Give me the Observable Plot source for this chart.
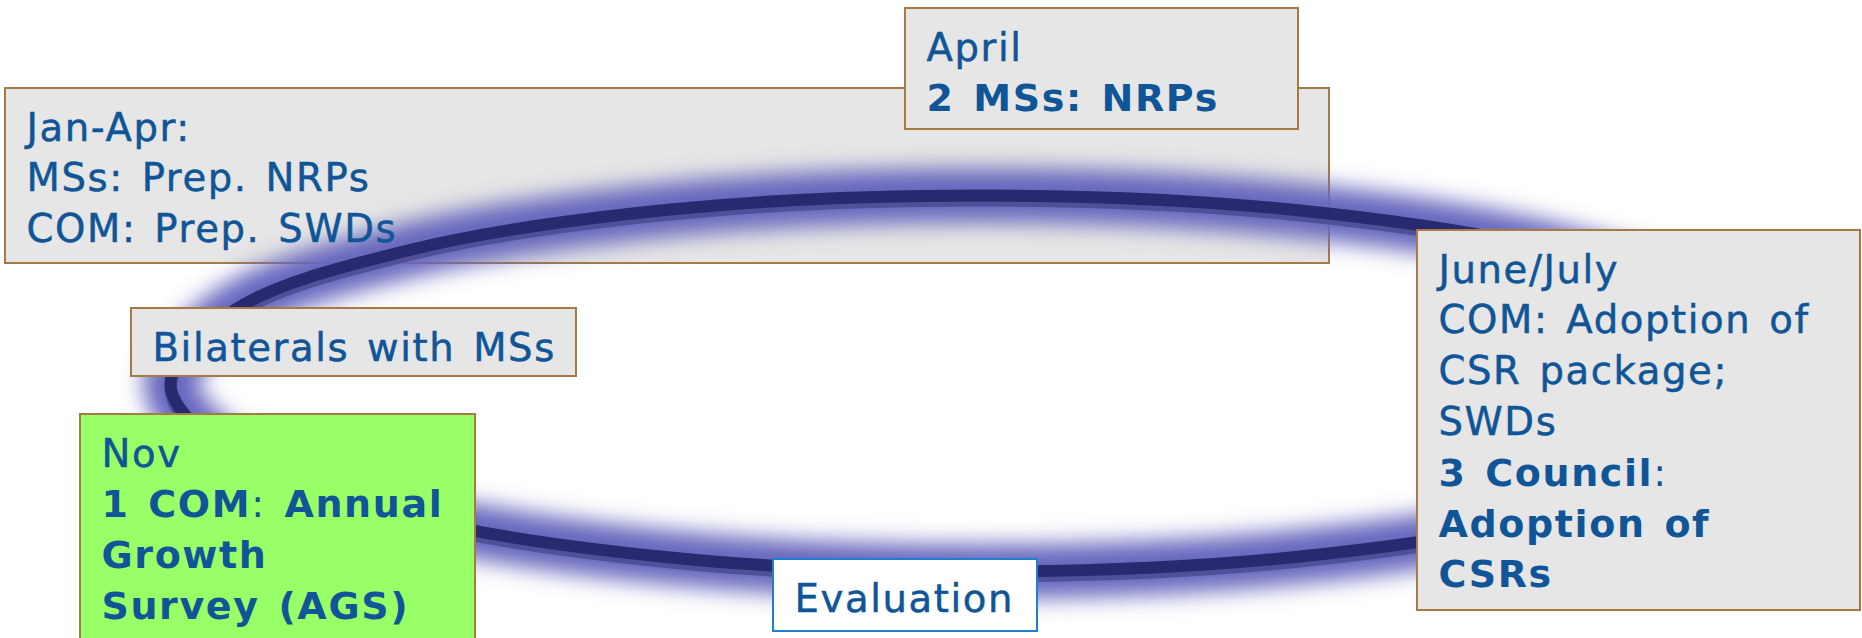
<!DOCTYPE html>
<html><head><meta charset="utf-8">
<script src="https://cdn.jsdelivr.net/npm/d3@7"></script>
<script src="https://cdn.jsdelivr.net/npm/@observablehq/plot@0.6"></script>
<style>
html,body{margin:0;padding:0;background:#fff;overflow:hidden}
#chart svg text{letter-spacing:1.6px;word-spacing:4px}
#chart svg g[aria-description="regular-lines"] text{stroke:#0f5597;stroke-width:0.5px;font-size:38.6px}
</style></head><body><div id="chart"></div>
<script>
// Ring (closed cycle) – points read along the drawn loop
const ringX = [1790,1728,1553,1290,980,670,407,232,170,232,407,670,980,1290,1553,1728];
const ringY = [383,311,250,209,195,209,250,311,383,455,516,557,571,557,516,455];

// Boxes of the cycle diagram
const boxIds    = ["Jan-Apr","April","June/July","Bilaterals","Nov","Evaluation"];
const boxLeft   = [5, 905, 1417, 131, 80, 773];
const boxRight  = [1329, 1298, 1860, 576, 475, 1037];
const boxTop    = [88, 8, 230, 308, 414, 559];
const boxBottom = [263, 129, 610, 376, 660, 631];

// Text lines inside the boxes
const lineBox  = [0,0,0, 1,1, 2,2,2,2,2,2,2, 3, 4,4,4,4, 5];
const lineText = [
  "Jan-Apr:","MSs: Prep. NRPs","COM: Prep. SWDs",
  "April","2 MSs: NRPs",
  "June/July","COM: Adoption of","CSR package;","SWDs","3 Council:","Adoption of","CSRs",
  "Bilaterals with MSs",
  "Nov","1 COM: Annual","Growth","Survey (AGS)",
  "Evaluation"
];
const lineBold = [0,0,0, 0,1, 0,0,0,0,1,1,1, 0, 0,1,1,1, 0];
const thinColonLines = [9, 14];

// layout / style
const fillOf = ["#e6e6e6","#e6e6e6","#e6e6e6","#e6e6e6","#99ff66","#ffffff"];
const strokeOf = ["#a57a45","#a57a45","#a57a45","#a57a45","#a57a45","#1e7fd0"];
const padX = 21, firstBase = 52, lineStep = 50.8;
const textBlue = "#0f5597";

const lineIdx = lineBox.map((b, i) => i - lineBox.indexOf(b));
const L = lineText.map((_, i) => i);
const ringIdx = ringX.map((_, i) => i);
const back = [0], front = [1,2,3,4,5];

const rectOpts = {
  x1: i => boxLeft[i], x2: i => boxRight[i],
  y1: i => boxTop[i], y2: i => boxBottom[i],
  fill: i => fillOf[i], stroke: i => strokeOf[i], strokeWidth: 2
};
const textOpts = (bold) => ({
  filter: i => !!lineBold[i] === bold,
  x: i => boxLeft[lineBox[i]] + padX,
  y: i => boxTop[lineBox[i]] + firstBase + lineIdx[i] * lineStep,
  text: i => lineText[i],
  textAnchor: "start", lineAnchor: "bottom",
  fontSize: 38, fontFamily: "DejaVu Sans", fontWeight: bold ? "bold" : "normal",
  fill: textBlue, ariaDescription: bold ? "bold-lines" : "regular-lines"
});

const ringOpts = {x: i => ringX[i], y: i => ringY[i], curve: "catmull-rom-closed"};

const svg = Plot.plot({
  width: 1862, height: 638, margin: 0,
  x: {domain: [0, 1862], range: [0, 1862], axis: null},
  y: {domain: [0, 638], range: [0, 638], axis: null},
  style: {background: "#fff", fontFamily: "DejaVu Sans", overflow: "hidden"},
  marks: [
    Plot.rect(back, rectOpts),
    Plot.line(ringIdx, {...ringOpts, stroke: "#6666be", strokeWidth: 54, ariaDescription: "glow"}),
    Plot.line(ringIdx, {...ringOpts, stroke: "#4f4f9a", strokeWidth: 12, dy: 5}),
    Plot.line(ringIdx, {...ringOpts, stroke: "#29296f", strokeWidth: 12}),
    Plot.rect(front, rectOpts),
    Plot.text(L, textOpts(false)),
    Plot.text(L, textOpts(true))
  ]
});

// glow blur filter
const s = d3.select(svg);
const f = s.append("defs").append("filter").attr("id", "ringglow")
  .attr("x", "-20%").attr("y", "-60%").attr("width", "140%").attr("height", "220%");
f.append("feGaussianBlur").attr("stdDeviation", 11);
s.select('g[aria-description="glow"]').attr("filter", "url(#ringglow)");

// regular-weight colon inside bold lines
s.selectAll('g[aria-description="bold-lines"] text').each(function () {
  const t = this.textContent;
  const idx = lineText.indexOf(t);
  if (thinColonLines.includes(idx)) {
    const k = t.indexOf(":");
    const el = d3.select(this);
    el.text("");
    el.append("tspan").text(t.slice(0, k));
    el.append("tspan").attr("font-weight", "normal").text(":");
    el.append("tspan").text(t.slice(k + 1));
  }
});

document.getElementById("chart").appendChild(svg);
</script></body></html>
